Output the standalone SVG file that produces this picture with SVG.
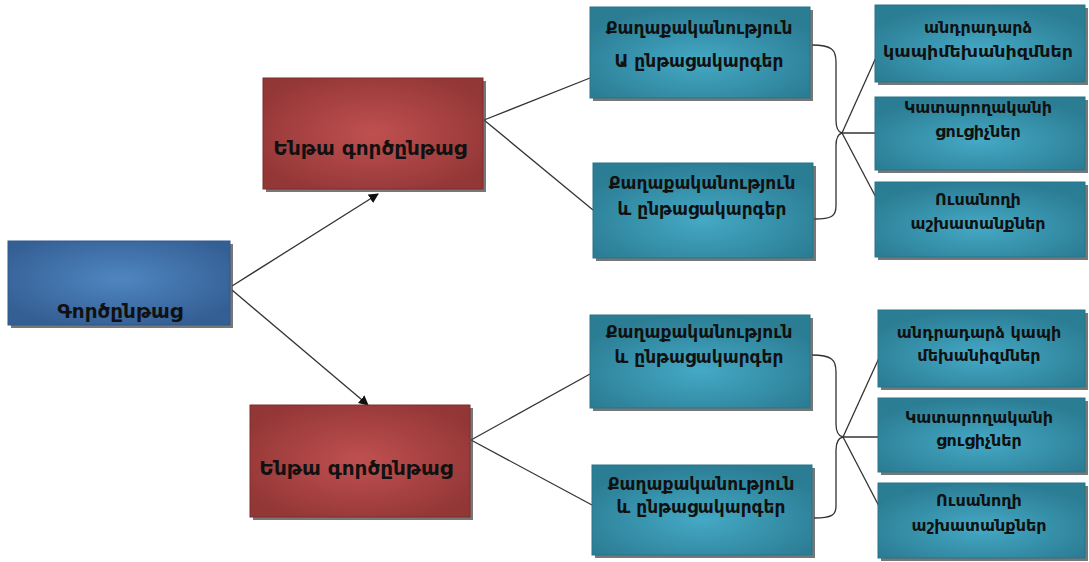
<svg xmlns="http://www.w3.org/2000/svg" width="1089" height="562" viewBox="0 0 1089 562">
  <defs>
    <radialGradient id="gBlue" cx="0.5" cy="0.45" r="0.6">
      <stop offset="0" stop-color="#4f86c0"/>
      <stop offset="1" stop-color="#345f94"/>
    </radialGradient>
    <radialGradient id="gRed" cx="0.5" cy="0.5" r="0.6">
      <stop offset="0" stop-color="#c05050"/>
      <stop offset="1" stop-color="#933636"/>
    </radialGradient>
    <radialGradient id="gTeal" cx="0.5" cy="0.6" r="0.6">
      <stop offset="0" stop-color="#45a9c5"/>
      <stop offset="1" stop-color="#2b7d94"/>
    </radialGradient>
    <marker id="arrow" viewBox="0 0 10 10" refX="9" refY="5" markerWidth="10" markerHeight="10" markerUnits="userSpaceOnUse" orient="auto">
      <path d="M0,0 L10,5 L0,10 z" fill="#111"/>
    </marker>
  </defs>
  <style>
    .shadow { fill: #4a4a4a; opacity: 0.75; }
    .blue { fill: url(#gBlue); stroke: #2f5a8a; stroke-width: 1; }
    .red { fill: url(#gRed); stroke: #7e2c2c; stroke-width: 1; }
    .teal { fill: url(#gTeal); stroke: #27748a; stroke-width: 1; }
    text { font-family: "DejaVu Sans", "Noto Sans", sans-serif; font-weight: bold; fill: #111; text-anchor: middle; }
    .t20 { font-size: 20px; }
    .t17 { font-size: 17px; }
    .t16 { font-size: 16px; }
    .line { fill: none; stroke: #333; stroke-width: 1.3; }
  </style>

  <!-- connectors -->
  <g id="connectors">
    <line class="line" x1="232" y1="286" x2="378" y2="194" marker-end="url(#arrow)"/>
    <line class="line" x1="232" y1="290" x2="368" y2="405" marker-end="url(#arrow)"/>

    <line class="line" x1="484" y1="120" x2="590" y2="78"/>
    <line class="line" x1="484" y1="120" x2="593" y2="210"/>
    <line class="line" x1="471" y1="440" x2="590" y2="374"/>
    <line class="line" x1="471" y1="440" x2="592" y2="505"/>

    <!-- upper brace and fan -->
    <path class="line" d="M812,45 C832,45 836,50 836,62 L836,120 C836,128 838,132 842,133 C838,134 836,138 836,146 L836,206 C836,216 832,219 814,219"/>
    <line class="line" x1="842" y1="133" x2="878" y2="53"/>
    <line class="line" x1="842" y1="133" x2="877" y2="133"/>
    <line class="line" x1="842" y1="133" x2="880" y2="205"/>

    <!-- lower brace and fan -->
    <path class="line" d="M812,355 C832,355 836,360 836,372 L836,424 C836,432 838,436 843,437 C838,438 836,442 836,450 L836,506 C836,515 832,518 814,518"/>
    <line class="line" x1="843" y1="437" x2="879" y2="358"/>
    <line class="line" x1="843" y1="437" x2="879" y2="437"/>
    <line class="line" x1="843" y1="437" x2="881" y2="510"/>
  </g>

  <!-- root process -->
  <g id="root">
    <rect class="shadow" x="11" y="244" width="222" height="84"/>
    <rect class="blue" x="8" y="241" width="222" height="84"/>
    <text class="t20" x="120" y="318">Գործընթաց</text>
  </g>

  <!-- sub-processes -->
  <g id="sub1">
    <rect class="shadow" x="266" y="81" width="220" height="111"/>
    <rect class="red" x="263" y="78" width="220" height="111"/>
    <text class="t20" x="370" y="155">Ենթա գործընթաց</text>
  </g>
  <g id="sub2">
    <rect class="shadow" x="253" y="408" width="220" height="112"/>
    <rect class="red" x="250" y="405" width="220" height="112"/>
    <text class="t20" x="356" y="475">Ենթա գործընթաց</text>
  </g>

  <!-- policies and procedures -->
  <g id="pol1">
    <rect class="shadow" x="593" y="10" width="220" height="91"/>
    <rect class="teal" x="590" y="7" width="220" height="91"/>
    <text class="t17" x="699" y="34">Քաղաքականություն</text>
    <text class="t17" x="699" y="67">Ա ընթացակարգեր</text>
  </g>
  <g id="pol2">
    <rect class="shadow" x="596" y="166" width="220" height="95"/>
    <rect class="teal" x="593" y="163" width="220" height="95"/>
    <text class="t17" x="702" y="189">Քաղաքականություն</text>
    <text class="t17" x="702" y="215">և ընթացակարգեր</text>
  </g>
  <g id="pol3">
    <rect class="shadow" x="593" y="318" width="220" height="93"/>
    <rect class="teal" x="590" y="315" width="220" height="93"/>
    <text class="t17" x="699" y="338">Քաղաքականություն</text>
    <text class="t17" x="699" y="363">և ընթացակարգեր</text>
  </g>
  <g id="pol4">
    <rect class="shadow" x="595" y="468" width="220" height="90"/>
    <rect class="teal" x="592" y="465" width="220" height="90"/>
    <text class="t17" x="701" y="490">Քաղաքականություն</text>
    <text class="t17" x="701" y="513">և ընթացակարգեր</text>
  </g>

  <!-- upper outcome boxes -->
  <g id="out1">
    <rect class="shadow" x="878" y="8" width="210" height="77"/>
    <rect class="teal" x="875" y="5" width="210" height="77"/>
    <text class="t16" x="978" y="33">անդրադարձ</text>
    <text class="t16" x="978" y="57" textLength="190" lengthAdjust="spacingAndGlyphs">կապիմեխանիզմներ</text>
  </g>
  <g id="out2">
    <rect class="shadow" x="878" y="100" width="210" height="73"/>
    <rect class="teal" x="875" y="97" width="210" height="73"/>
    <text class="t16" x="978" y="113">Կատարողականի</text>
    <text class="t16" x="978" y="137">ցուցիչներ</text>
  </g>
  <g id="out3">
    <rect class="shadow" x="878" y="185" width="210" height="75"/>
    <rect class="teal" x="875" y="182" width="210" height="75"/>
    <text class="t16" x="978" y="205">Ուսանողի</text>
    <text class="t16" x="978" y="229">աշխատանքներ</text>
  </g>

  <!-- lower outcome boxes -->
  <g id="out4">
    <rect class="shadow" x="881" y="313" width="207" height="77"/>
    <rect class="teal" x="878" y="310" width="207" height="77"/>
    <text class="t16" x="979" y="338">անդրադարձ կապի</text>
    <text class="t16" x="979" y="361">մեխանիզմներ</text>
  </g>
  <g id="out5">
    <rect class="shadow" x="881" y="401" width="207" height="74"/>
    <rect class="teal" x="878" y="398" width="207" height="74"/>
    <text class="t16" x="979" y="423">Կատարողականի</text>
    <text class="t16" x="979" y="446">ցուցիչներ</text>
  </g>
  <g id="out6">
    <rect class="shadow" x="881" y="486" width="207" height="75"/>
    <rect class="teal" x="878" y="483" width="207" height="75"/>
    <text class="t16" x="979" y="506">Ուսանողի</text>
    <text class="t16" x="979" y="531">աշխատանքներ</text>
  </g>
</svg>
